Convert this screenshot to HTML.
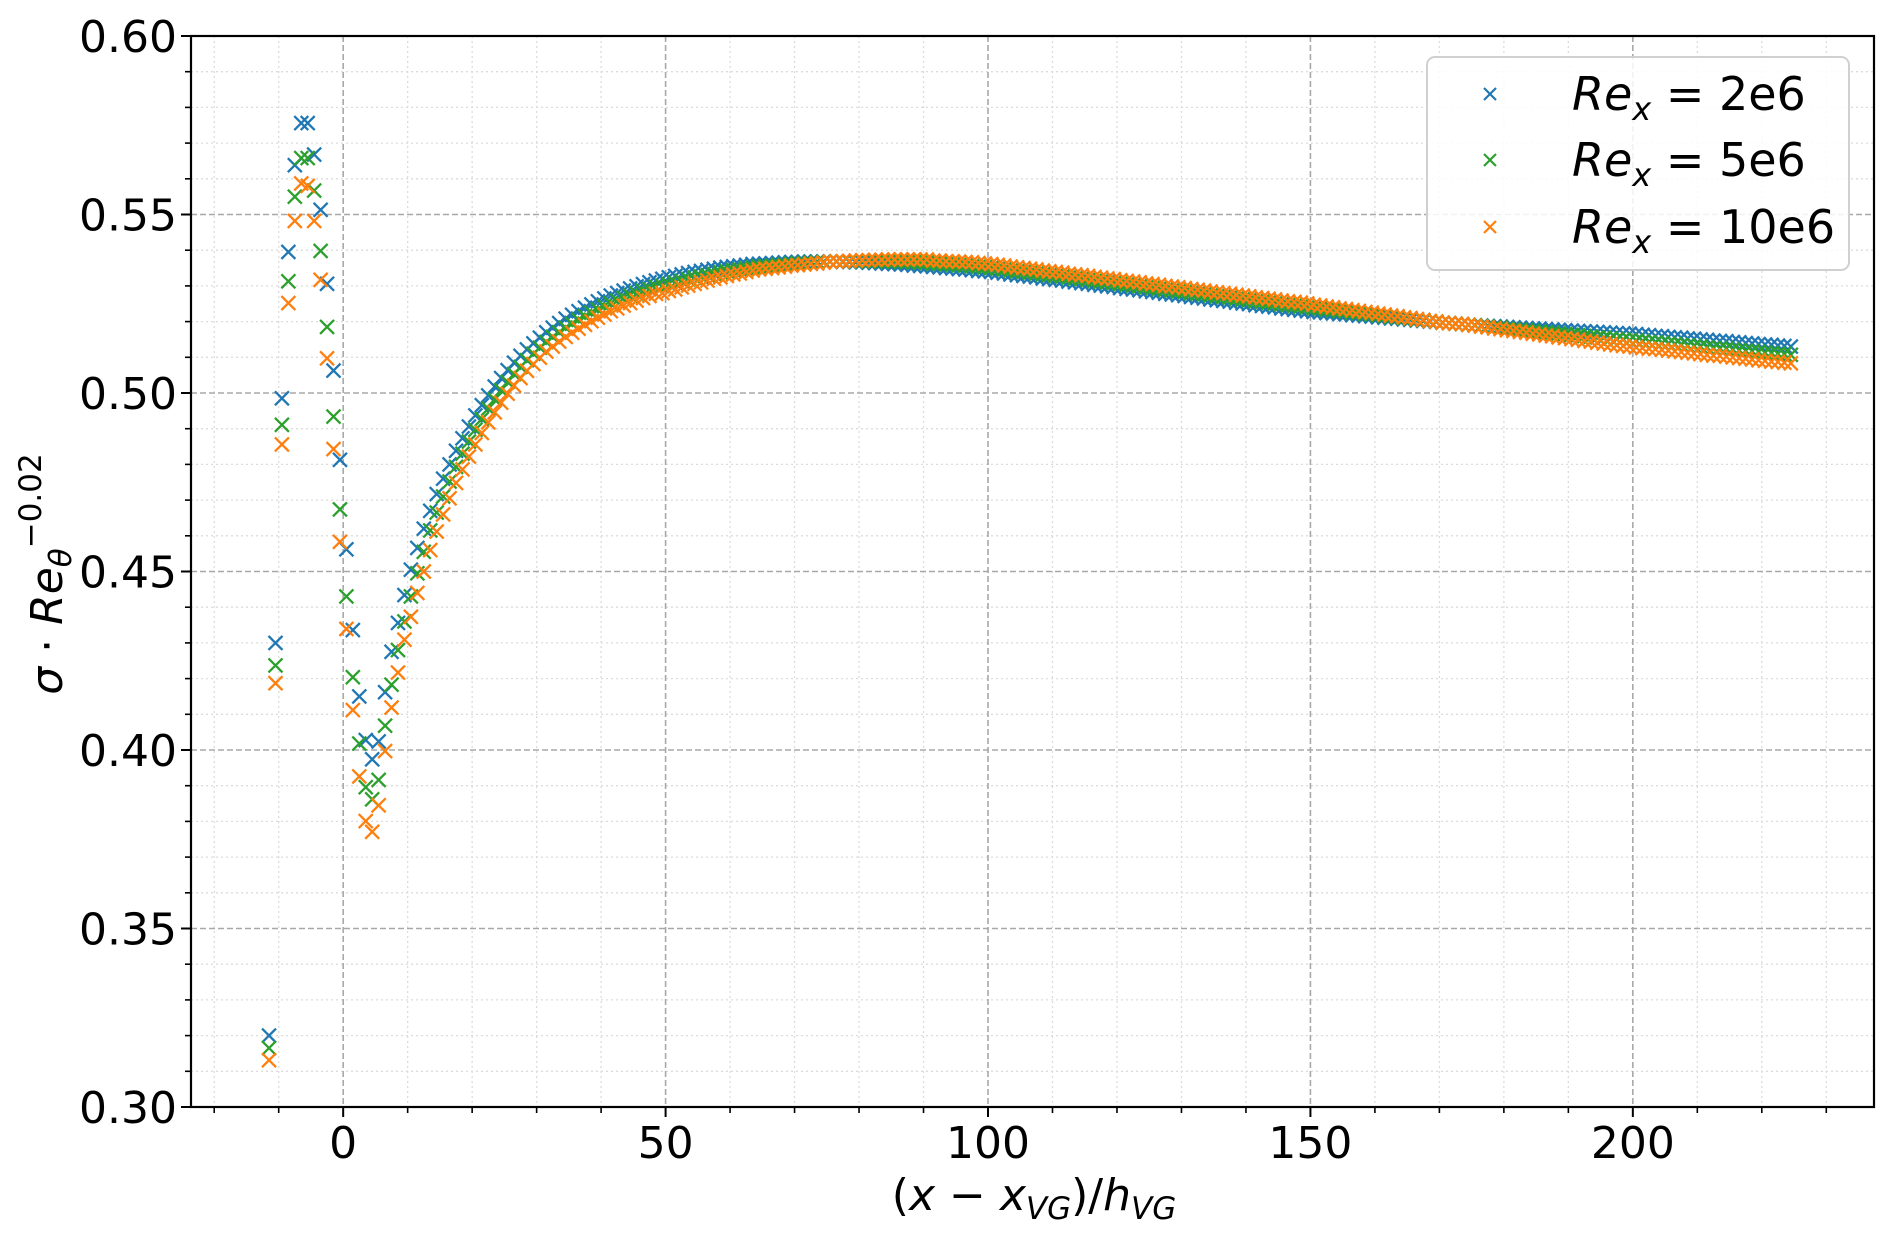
<!DOCTYPE html>
<html><head><meta charset="utf-8">
<style>
html,body{margin:0;padding:0;background:#fff;}
svg{display:block;font-family:"DejaVu Sans","Liberation Sans",sans-serif;}
</style></head>
<body>
<svg id="chart" width="1892" height="1235" viewBox="0 0 1892 1235" xmlns="http://www.w3.org/2000/svg">
<rect x="0" y="0" width="1892" height="1235" fill="#fff"/>
<g id="grid"></g>
<g id="marks"></g>
<g id="axes"></g>
<g id="legend"></g>
<text x="1034" y="1210" font-size="44" text-anchor="middle">(<tspan font-style="italic">x</tspan> − <tspan font-style="italic">x</tspan><tspan font-style="italic" font-size="31" dy="9">VG</tspan><tspan dy="-9">)/</tspan><tspan font-style="italic">h</tspan><tspan font-style="italic" font-size="31" dy="9">VG</tspan></text>
<text transform="translate(62,574) rotate(-90)" font-size="44" text-anchor="middle"><tspan font-style="italic">σ</tspan> · <tspan font-style="italic">Re</tspan><tspan font-style="italic" font-size="31" dy="9">θ</tspan><tspan font-size="31" dy="-30">−0.02</tspan></text>
</svg>
<script>
const xValues = [-11.5,-10.5,-9.5,-8.5,-7.5,-6.5,-5.5,-4.5,-3.5,-2.5,-1.5,-0.5,0.5,1.5,2.5,3.5,4.5,5.5,6.5,7.5,8.5,9.5,10.5,11.5,12.5,13.5,14.5,15.5,16.5,17.5,18.5,19.5,20.5,21.5,22.5,23.5,24.5,25.5,26.5,27.5,28.5,29.5,30.5,31.5,32.5,33.5,34.5,35.5,36.5,37.5,38.5,39.5,40.5,41.5,42.5,43.5,44.5,45.5,46.5,47.5,48.5,49.5,50.5,51.5,52.5,53.5,54.5,55.5,56.5,57.5,58.5,59.5,60.5,61.5,62.5,63.5,64.5,65.5,66.5,67.5,68.5,69.5,70.5,71.5,72.5,73.5,74.5,75.5,76.5,77.5,78.5,79.5,80.5,81.5,82.5,83.5,84.5,85.5,86.5,87.5,88.5,89.5,90.5,91.5,92.5,93.5,94.5,95.5,96.5,97.5,98.5,99.5,100.5,101.5,102.5,103.5,104.5,105.5,106.5,107.5,108.5,109.5,110.5,111.5,112.5,113.5,114.5,115.5,116.5,117.5,118.5,119.5,120.5,121.5,122.5,123.5,124.5,125.5,126.5,127.5,128.5,129.5,130.5,131.5,132.5,133.5,134.5,135.5,136.5,137.5,138.5,139.5,140.5,141.5,142.5,143.5,144.5,145.5,146.5,147.5,148.5,149.5,150.5,151.5,152.5,153.5,154.5,155.5,156.5,157.5,158.5,159.5,160.5,161.5,162.5,163.5,164.5,165.5,166.5,167.5,168.5,169.5,170.5,171.5,172.5,173.5,174.5,175.5,176.5,177.5,178.5,179.5,180.5,181.5,182.5,183.5,184.5,185.5,186.5,187.5,188.5,189.5,190.5,191.5,192.5,193.5,194.5,195.5,196.5,197.5,198.5,199.5,200.5,201.5,202.5,203.5,204.5,205.5,206.5,207.5,208.5,209.5,210.5,211.5,212.5,213.5,214.5,215.5,216.5,217.5,218.5,219.5,220.5,221.5,222.5,223.5,224.5];

const re2e6 = [.320,.430,.4985,.5395,.5638,.5756,.5756,.5668,.5513,.5306,.5063,.4813,.4562,.4336,.415,.4028,.3974,.4024,.4162,.4275,.4356,.4434,.4505,.4566,.4620,
.4670,.4717,.4760,.4800,.4838,.4873,.4906,.4937,.4966,.4993,.5018,.5042,.5064,.5085,.5104,.5122,.5139,.5155,.5170,.5183,.5196,.5208,.5219,.5229,.5239,.5248,.5257,.5265,.5273,.5280,.5287,.5293,.5299,.5305,.5310,.5315,.5320,.5324,.5328,.5332,.5336,.5339,.5342,.5345,.5348,.5351,.5353,.5355,.5357,.5359,.5361,.5362,.5363,.5364,.5365,.5366,.5367,.5367,.5368,.5368,.5368,.5368,.5368,.5368,.5367,.5367,.5366,.5366,.5365,.5364,.5363,.5362,.5361,.5360,.5359,.5357,.5356,.5355,.5353,.5352,.5350,.5349,.5347,.5346,.5344,.5342,.5341,
.5339,.5337,.5335,.5332,.5330,.5328,.5326,.5324,.5321,.5319,.5317,.5315,.5312,.5310,.5308,.5306,.5303,.5301,.5299,.5297,.5294,.5292,.5290,.5288,.5285,.5283,.5281,.5278,.5276,.5274,.5272,.5269,.5267,.5265,.5262,.5260,.5258,.5256,.5253,.5251,.5249,.5246,.5244,.5242,.5240,.5237,.5235,.5233,.5231,.5229,
.5227,.5226,.5224,.5223,.5221,.5220,.5218,.5217,.5215,.5214,.5212,.5211,.5209,.5208,.5206,.5205,.5203,.5202,.5200,.5199,.5197,.5196,.5194,.5193,.5191,
.5190,.5189,.5188,.5187,.5186,.5185,.5184,.5183,.5182,.5181,.5180,.5179,.5178,.5177,.5176,.5175,.5174,.5173,.5172,.5171,.5170,.5169,.5168,.5167,.5166,
.5165,.5163,.5162,.5160,.5159,.5157,.5156,.5155,.5153,.5152,.5150,.5149,.5147,.5146,.5145,.5143,.5142,.5140,.5139,.5137,.5136,.5135,.5133,.5132,.5130];

const re5e6 = [.3165,.4237,.4911,.5313,.555,.5658,.5658,.5567,.5398,.5185,.4934,.4674,.443,.4204,.4018,.3896,.3862,.3916,.4068,.4183,.4280,.4360,.4430,.4495,.4555,
.4615,.4665,.4710,.4752,.4793,.4830,.4864,.4897,.4927,.4956,.4982,.5008,.5031,.5053,.5073,.5092,.5110,.5127,.5143,.5157,.5170,.5183,.5194,.5205,.5215,.5225,.5234,.5243,.5251,.5259,.5266,.5273,.5279,.5286,.5291,.5297,.5300,.5305,.5309,.5314,.5319,.5323,.5326,.5330,.5334,.5338,.5341,.5344,.5346,.5349,.5352,.5354,.5356,.5357,.5359,.5360,.5362,.5363,.5364,.5365,.5366,.5367,.5368,.5369,.5368,.5369,.5369,.5369,.5369,.5369,.5368,.5368,.5368,.5367,.5367,.5366,.5365,.5365,.5362,.5362,.5360,.5359,.5358,.5357,.5355,.5353,.5352,
.5350,.5348,.5346,.5343,.5341,.5339,.5337,.5335,.5332,.5330,.5328,.5326,.5323,.5321,.5319,.5317,.5314,.5312,.5310,.5308,.5305,.5303,.5301,.5299,.5296,.5294,.5292,.5289,.5287,.5285,.5283,.5280,.5278,.5276,.5273,.5271,.5269,.5267,.5264,.5262,.5260,.5257,.5255,.5253,.5251,.5248,.5246,.5244,.5242,.5240,
.5237,.5236,.5233,.5232,.5229,.5228,.5225,.5224,.5221,.5220,.5217,.5216,.5213,.5212,.5209,.5208,.5205,.5204,.5201,.5200,.5197,.5196,.5194,.5193,.5191,
.5190,.5188,.5186,.5184,.5183,.5181,.5179,.5177,.5176,.5174,.5172,.5170,.5169,.5167,.5165,.5163,.5162,.5160,.5158,.5156,.5155,.5153,.5151,.5150,.5148,
.5147,.5145,.5143,.5142,.5140,.5138,.5137,.5135,.5133,.5132,.5130,.5128,.5126,.5125,.5124,.5122,.5120,.5118,.5117,.5115,.5113,.5112,.5110,.5109,.5107];

const re10e6 = [.3131,.4187,.4856,.5252,.5482,.5587,.558,.5482,.5317,.5097,.4843,.4583,.4339,.4112,.3926,.3801,.3771,.3845,.3997,.4119,.4217,.4309,.4373,.4440,.4500,
.4560,.4612,.4660,.4705,.4748,.4786,.4822,.4856,.4888,.4918,.4946,.4973,.4998,.5021,.5042,.5062,.5081,.5099,.5116,.5130,.5144,.5157,.5169,.5180,.5191,.5201,.5211,.5220,.5229,.5237,.5245,.5252,.5259,.5266,.5272,.5278,.5280,.5286,.5290,.5296,.5301,.5306,.5310,.5315,.5320,.5324,.5328,.5332,.5335,.5339,.5343,.5346,.5348,.5350,.5352,.5354,.5357,.5358,.5360,.5362,.5363,.5365,.5368,.5369,.5369,.5370,.5371,.5372,.5372,.5373,.5373,.5374,.5374,.5374,.5374,.5374,.5374,.5374,.5371,.5371,.5369,.5369,.5368,.5367,.5366,.5364,.5363,
.5361,.5359,.5357,.5354,.5352,.5350,.5348,.5346,.5343,.5341,.5339,.5337,.5334,.5332,.5330,.5328,.5325,.5323,.5321,.5319,.5316,.5314,.5312,.5310,.5307,.5305,.5303,.5300,.5298,.5296,.5294,.5291,.5289,.5287,.5284,.5282,.5280,.5278,.5275,.5273,.5271,.5268,.5266,.5264,.5262,.5259,.5257,.5255,.5253,.5251,
.5247,.5245,.5242,.5240,.5237,.5235,.5232,.5230,.5227,.5225,.5222,.5220,.5217,.5215,.5212,.5210,.5207,.5205,.5202,.5200,.5197,.5196,.5194,.5193,.5191,
.5189,.5186,.5184,.5181,.5179,.5176,.5174,.5171,.5169,.5166,.5164,.5161,.5159,.5156,.5154,.5151,.5149,.5146,.5144,.5141,.5139,.5136,.5134,.5132,.5130,
.5128,.5126,.5124,.5123,.5121,.5119,.5117,.5115,.5113,.5111,.5109,.5107,.5105,.5104,.5102,.5100,.5098,.5096,.5094,.5092,.5090,.5088,.5087,.5085,.5083];

const seriesLabels = ["2e6", "5e6", "10e6"];
const xTickValues = [0, 50, 100, 150, 200];
const yTickLabels = ["0.30", "0.35", "0.40", "0.45", "0.50", "0.55", "0.60"];

const NS = "http://www.w3.org/2000/svg";
const L = 191, R = 1874, T = 36, B = 1107;
const XMIN = -23.6, XMAX = 237.4, YMIN = 0.30, YMAX = 0.60;
function sx(v){ return L + (v - XMIN) / (XMAX - XMIN) * (R - L); }
function sy(v){ return B - (v - YMIN) / (YMAX - YMIN) * (B - T); }
function mk(tag, attrs, parent){
  const e = document.createElementNS(NS, tag);
  for (const k in attrs) e.setAttribute(k, attrs[k]);
  parent.appendChild(e);
  return e;
}
const grid = document.getElementById('grid');
const axes = document.getElementById('axes');
const marks = document.getElementById('marks');
const legend = document.getElementById('legend');

for (let v = -20; v <= 230; v += 10) {
  if (v % 50 === 0) continue;
  const l = mk('line', {x1: sx(v), x2: sx(v), y1: T, y2: B, stroke: '#dcdcdc', 'stroke-width': 1.3, 'stroke-dasharray': '2,3'}, grid);
  
  
  const t = mk('line', {x1: sx(v), x2: sx(v), y1: B, y2: B + 6, stroke: '#000', 'stroke-width': 1.6}, axes);
  
  
}
for (let k = 31; k < 60; k++) {
  if (k % 5 === 0) continue;
  const v = k / 100;
  const l = mk('line', {x1: L, x2: R, y1: sy(v), y2: sy(v), stroke: '#dcdcdc', 'stroke-width': 1.3, 'stroke-dasharray': '2,3'}, grid);
  
  
  const t = mk('line', {x1: L - 6, x2: L, y1: sy(v), y2: sy(v), stroke: '#000', 'stroke-width': 1.6}, axes);
  
  
}
xTickValues.forEach(v => {
  const l = mk('line', {x1: sx(v), x2: sx(v), y1: T, y2: B, stroke: '#a8a8a8', 'stroke-width': 1.6, 'stroke-dasharray': '6,3'}, grid);
  
  
  const t = mk('line', {x1: sx(v), x2: sx(v), y1: B, y2: B + 10, stroke: '#000', 'stroke-width': 2}, axes);
  
  
  const tx = mk('text', {x: sx(v), y: 1158, 'font-size': 44, 'text-anchor': 'middle'}, axes);
  tx.textContent = String(v);
  
  
});
yTickLabels.forEach(s => {
  const v = parseFloat(s);
  const l = mk('line', {x1: L, x2: R, y1: sy(v), y2: sy(v), stroke: '#a8a8a8', 'stroke-width': 1.6, 'stroke-dasharray': '6,3'}, grid);
  
  
  const t = mk('line', {x1: L - 10, x2: L, y1: sy(v), y2: sy(v), stroke: '#000', 'stroke-width': 2}, axes);
  
  
  const tx = mk('text', {x: 177, y: sy(v) + 16, 'font-size': 44, 'text-anchor': 'end'}, axes);
  tx.textContent = s;
  
  
});
const frame = mk('rect', {x: L, y: T, width: R - L, height: B - T, fill: 'none', stroke: '#000', 'stroke-width': 2.2}, axes);



const colors = ['#1f77b4', '#2ca02c', '#ff7f0e'];
const allSeries = [re2e6, re5e6, re10e6];
const h = 7;
allSeries.forEach((ser, si) => {
  const g = mk('g', {stroke: colors[si], 'stroke-width': 2.3, fill: 'none'}, marks);
  
  
  ser.forEach((v, i) => {
    const cx = sx(xValues[i]), cy = sy(v);
    const p = mk('path', {d: `M${cx-h},${cy-h}L${cx+h},${cy+h}M${cx-h},${cy+h}L${cx+h},${cy-h}`}, g);
    
    
  });
});

const box = mk('rect', {x: 1427, y: 57, width: 422, height: 213, rx: 8, fill: '#fff', 'fill-opacity': 0.85, stroke: '#d0d0d0', 'stroke-width': 2}, legend);


const rowY = [94, 160, 227];
seriesLabels.forEach((lab, si) => {
  const y = rowY[si], x = 1490, hh = 6;
  const m = mk('path', {d: `M${x-hh},${y-hh}L${x+hh},${y+hh}M${x-hh},${y+hh}L${x+hh},${y-hh}`, stroke: colors[si], 'stroke-width': 2.2}, legend);
  
  
  const t = mk('text', {x: 1572, y: y + 16, 'font-size': 46}, legend);
  
  
  t.innerHTML = `<tspan font-style="italic">Re</tspan><tspan font-style="italic" font-size="32" dy="10">x</tspan><tspan dy="-10"> = ${lab}</tspan>`;
});
</script>
</body></html>
